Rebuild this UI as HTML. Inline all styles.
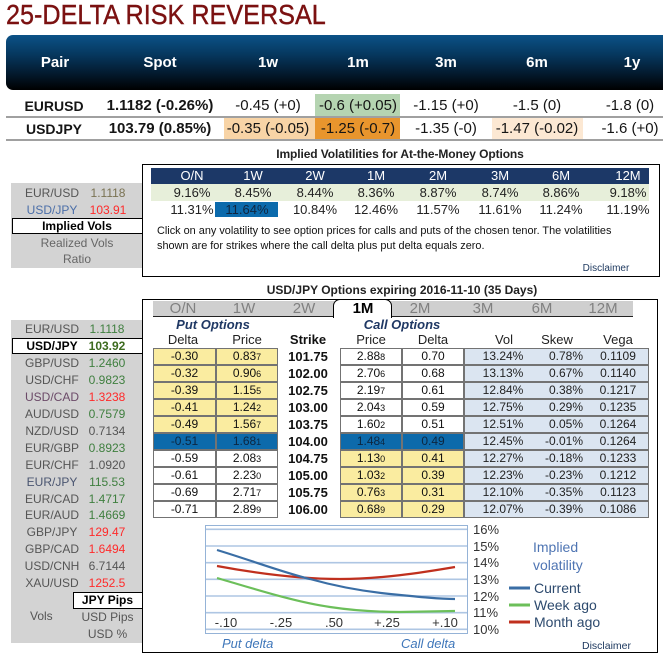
<!DOCTYPE html>
<html><head><meta charset="utf-8">
<style>
*{margin:0;padding:0;box-sizing:border-box}
body{width:663px;height:655px;overflow:hidden;background:#fff;font-family:"Liberation Sans",Arial,sans-serif;position:relative}
.a{position:absolute;white-space:nowrap}
.c{text-align:center}
.h{font-size:15px;line-height:18px;font-weight:bold;color:#fff;top:54px;width:100px;text-align:center}
.r{font-size:15px;line-height:18px;color:#151515;width:110px;text-align:center}
.vh{font-size:13px;line-height:16px;color:#fff;top:168px;width:60px;text-align:center}
.v1{font-size:13px;line-height:16px;color:#222;top:185px;width:60px;text-align:center}
.v2{font-size:13px;line-height:16px;color:#222;top:202px;width:60px;text-align:center}
.ln{font-size:12px;line-height:15px;color:#555;width:80px;text-align:center}
.lv{font-size:12px;line-height:15px;width:60px;text-align:center}
.g{color:#3f7f3f}.rd{color:#ff2a2a}.gy{color:#555}
.cell{position:absolute;height:17px;border:1px solid #737373;font-size:12px;line-height:15px;text-align:center;color:#111}
.y{background:#faeca0}.w{background:#fff}.b{background:#0d6aab;color:#0d2640}
.vb{position:absolute;left:464px;width:185px;height:17px;border:1px solid #737373;background:#dbe5f1}
.sm{font-size:9px}
.st{font-size:13px;line-height:17px;font-weight:bold;color:#111;left:280px;width:56px;text-align:center}
.vt{font-size:12px;line-height:17px;color:#222}
.tab{font-size:15px;line-height:15px;color:#808080;top:301px;width:50px;text-align:center}
.ch{font-size:13px;line-height:16px;color:#222;top:332px;width:60px;text-align:center}
</style></head><body>

<!-- Title -->
<div class="a" style="left:6px;top:-1px;font-size:28px;line-height:32px;color:#7b1111;-webkit-text-stroke:0.4px #7b1111;transform:scaleX(0.9);transform-origin:0 0">25-DELTA RISK REVERSAL</div>

<!-- Header band -->
<div class="a" style="left:6px;top:35px;width:657px;height:55px;border-radius:7px 0 0 7px;background:linear-gradient(#0b5287,#06385f 35%,#031a2e 70%,#000 100%)"></div>
<div class="a h" style="left:5px">Pair</div>
<div class="a h" style="left:110px">Spot</div>
<div class="a h" style="left:218px">1w</div>
<div class="a h" style="left:308px">1m</div>
<div class="a h" style="left:396px">3m</div>
<div class="a h" style="left:487px">6m</div>
<div class="a h" style="left:582px">1y</div>

<!-- highlights -->
<div class="a" style="left:315px;top:94px;width:85px;height:23px;background:#b5d4b1"></div>
<div class="a" style="left:224px;top:118px;width:91px;height:21px;background:#f8d4a6"></div>
<div class="a" style="left:315px;top:118px;width:85px;height:21px;background:#e8952d"></div>
<div class="a" style="left:492px;top:118px;width:91px;height:21px;background:#fce8d3"></div>
<div class="a" style="left:6px;top:116px;width:657px;height:2px;background:#a0a0a0"></div>
<div class="a" style="left:6px;top:139px;width:657px;height:2px;background:#a0a0a0"></div>

<div class="a r" style="left:-1px;top:97px;font-weight:bold;font-size:14px">EURUSD</div>
<div class="a r" style="left:105px;top:97px;font-weight:bold">1.1182 (-0.26%)</div>
<div class="a r" style="left:213px;top:97px">-0.45 (+0)</div>
<div class="a r" style="left:303px;top:97px">-0.6 (+0.05)</div>
<div class="a r" style="left:391px;top:97px">-1.15 (+0)</div>
<div class="a r" style="left:482px;top:97px">-1.5 (0)</div>
<div class="a r" style="left:575px;top:97px">-1.8 (0)</div>

<div class="a r" style="left:-1px;top:120px;font-weight:bold;font-size:14px">USDJPY</div>
<div class="a r" style="left:105px;top:120px;font-weight:bold">103.79 (0.85%)</div>
<div class="a r" style="left:213px;top:120px">-0.35 (-0.05)</div>
<div class="a r" style="left:303px;top:120px">-1.25 (-0.7)</div>
<div class="a r" style="left:391px;top:120px">-1.35 (-0)</div>
<div class="a r" style="left:482px;top:120px">-1.47 (-0.02)</div>
<div class="a r" style="left:575px;top:120px">-1.6 (+0)</div>

<!-- Section 2: Implied vols -->
<div class="a c" style="left:250px;top:147px;width:300px;font-size:12px;line-height:15px;font-weight:bold;color:#222;letter-spacing:-0.1px">Implied Volatilities for At-the-Money Options</div>
<div class="a" style="left:142px;top:164px;width:518px;height:113px;border:1px solid #000"></div>
<div class="a" style="left:151px;top:168px;width:498px;height:16px;background:#1c3867"></div>
<div class="a" style="left:151px;top:184px;width:498px;height:17px;background:#e7efda"></div>
<div class="a" style="left:215px;top:202px;width:63px;height:15px;background:#0b6aac"></div>

<div class="a vh" style="left:162px">O/N</div>
<div class="a vh" style="left:223px">1W</div>
<div class="a vh" style="left:285px">2W</div>
<div class="a vh" style="left:346px">1M</div>
<div class="a vh" style="left:408px">2M</div>
<div class="a vh" style="left:470px">3M</div>
<div class="a vh" style="left:531px">6M</div>
<div class="a vh" style="left:598px">12M</div>

<div class="a v1" style="left:162px">9.16%</div>
<div class="a v1" style="left:223px">8.45%</div>
<div class="a v1" style="left:285px">8.44%</div>
<div class="a v1" style="left:346px">8.36%</div>
<div class="a v1" style="left:408px">8.87%</div>
<div class="a v1" style="left:470px">8.74%</div>
<div class="a v1" style="left:531px">8.86%</div>
<div class="a v1" style="left:598px">9.18%</div>

<div class="a v2" style="left:162px">11.31%</div>
<div class="a v2" style="left:217px;color:#10253f">11.64%</div>
<div class="a v2" style="left:285px">10.84%</div>
<div class="a v2" style="left:346px">12.46%</div>
<div class="a v2" style="left:408px">11.57%</div>
<div class="a v2" style="left:470px">11.61%</div>
<div class="a v2" style="left:531px">11.24%</div>
<div class="a v2" style="left:598px">11.19%</div>

<div class="a" style="left:157px;top:224px;font-size:10.9px;line-height:15px;color:#111">Click on any volatility to see option prices for calls and puts of the chosen tenor. The volatilities<br>shown are for strikes where the call delta plus put delta equals zero.</div>
<div class="a c" style="left:576px;top:263px;width:60px;font-size:10px;line-height:12px;color:#1f3a60">Disclaimer</div>

<!-- left panel section 2 -->
<div class="a" style="left:11px;top:183px;width:131px;height:85px;background:#d3d3d3"></div>
<div class="a ln" style="left:12px;top:186px">EUR/USD</div>
<div class="a lv" style="left:78px;top:186px;color:#7a7252">1.1118</div>
<div class="a ln" style="left:12px;top:203px;color:#4a6ea8">USD/JPY</div>
<div class="a lv" style="left:78px;top:203px;color:#ff2a2a">103.91</div>
<div class="a" style="left:12px;top:218px;width:131px;height:16px;background:#fff;border:1px solid #000"></div>
<div class="a c" style="left:12px;top:218px;width:130px;font-size:12px;line-height:16px;font-weight:bold;color:#000">Implied Vols</div>
<div class="a c" style="left:12px;top:236px;width:130px;font-size:12px;line-height:15px;color:#666">Realized Vols</div>
<div class="a c" style="left:12px;top:252px;width:130px;font-size:12px;line-height:15px;color:#666">Ratio</div>

<!-- Section 3 -->
<div class="a c" style="left:252px;top:283px;width:300px;font-size:12px;line-height:15px;font-weight:bold;color:#222">USD/JPY Options expiring 2016-11-10 (35 Days)</div>
<div class="a" style="left:142px;top:299px;width:516px;height:354px;border:1px solid #000"></div>
<div class="a" style="left:153px;top:301px;width:480px;height:15px;background:#cfcfcf"></div>
<div class="a" style="left:153px;top:316px;width:480px;height:1px;background:#222"></div>
<div class="a" style="left:333px;top:299px;width:59px;height:19px;background:#fff;border:1px solid #000;border-bottom:none;border-radius:7px 7px 0 0"></div>
<div class="a tab" style="left:158px">O/N</div>
<div class="a tab" style="left:219px">1W</div>
<div class="a tab" style="left:279px">2W</div>
<div class="a tab" style="left:338px;color:#000;font-weight:bold">1M</div>
<div class="a tab" style="left:395px">2M</div>
<div class="a tab" style="left:458px">3M</div>
<div class="a tab" style="left:517px">6M</div>
<div class="a tab" style="left:578px">12M</div>

<div class="a c" style="left:163px;top:317px;width:100px;font-size:13px;line-height:15px;font-weight:bold;font-style:italic;color:#1f3864">Put Options</div>
<div class="a c" style="left:352px;top:317px;width:100px;font-size:13px;line-height:15px;font-weight:bold;font-style:italic;color:#1f3864">Call Options</div>
<div class="a ch" style="left:153px">Delta</div>
<div class="a ch" style="left:217px">Price</div>
<div class="a ch" style="left:278px;font-weight:bold;color:#111">Strike</div>
<div class="a ch" style="left:341px">Price</div>
<div class="a ch" style="left:403px">Delta</div>
<div class="a ch" style="left:474px">Vol</div>
<div class="a ch" style="left:527px">Skew</div>
<div class="a ch" style="left:588px">Vega</div>

<!-- rows -->
<div class="cell y" style="left:153px;top:348px;width:63px">-0.30</div><div class="cell y" style="left:216px;top:348px;width:62px">0.83<span class="sm">7</span></div><div class="a st" style="top:348px">101.75</div><div class="cell w" style="left:340px;top:348px;width:62px">2.88<span class="sm">8</span></div><div class="cell w" style="left:402px;top:348px;width:62px">0.70</div><div class="vb" style="top:348px"></div>
<div class="a vt c" style="left:470px;top:348px;width:66px">13.24%</div><div class="a vt" style="left:533px;top:348px;width:50px;text-align:right">0.78%</div><div class="a vt c" style="left:588px;top:348px;width:60px">0.1109</div>

<div class="cell y" style="left:153px;top:365px;width:63px">-0.32</div><div class="cell y" style="left:216px;top:365px;width:62px">0.90<span class="sm">6</span></div><div class="a st" style="top:365px">102.00</div><div class="cell w" style="left:340px;top:365px;width:62px">2.70<span class="sm">6</span></div><div class="cell w" style="left:402px;top:365px;width:62px">0.68</div><div class="vb" style="top:365px"></div>
<div class="a vt c" style="left:470px;top:365px;width:66px">13.13%</div><div class="a vt" style="left:533px;top:365px;width:50px;text-align:right">0.67%</div><div class="a vt c" style="left:588px;top:365px;width:60px">0.1140</div>

<div class="cell y" style="left:153px;top:382px;width:63px">-0.39</div><div class="cell y" style="left:216px;top:382px;width:62px">1.15<span class="sm">5</span></div><div class="a st" style="top:382px">102.75</div><div class="cell w" style="left:340px;top:382px;width:62px">2.19<span class="sm">7</span></div><div class="cell w" style="left:402px;top:382px;width:62px">0.61</div><div class="vb" style="top:382px"></div>
<div class="a vt c" style="left:470px;top:382px;width:66px">12.84%</div><div class="a vt" style="left:533px;top:382px;width:50px;text-align:right">0.38%</div><div class="a vt c" style="left:588px;top:382px;width:60px">0.1217</div>

<div class="cell y" style="left:153px;top:399px;width:63px">-0.41</div><div class="cell y" style="left:216px;top:399px;width:62px">1.24<span class="sm">2</span></div><div class="a st" style="top:399px">103.00</div><div class="cell w" style="left:340px;top:399px;width:62px">2.04<span class="sm">3</span></div><div class="cell w" style="left:402px;top:399px;width:62px">0.59</div><div class="vb" style="top:399px"></div>
<div class="a vt c" style="left:470px;top:399px;width:66px">12.75%</div><div class="a vt" style="left:533px;top:399px;width:50px;text-align:right">0.29%</div><div class="a vt c" style="left:588px;top:399px;width:60px">0.1235</div>

<div class="cell y" style="left:153px;top:416px;width:63px">-0.49</div><div class="cell y" style="left:216px;top:416px;width:62px">1.56<span class="sm">7</span></div><div class="a st" style="top:416px">103.75</div><div class="cell w" style="left:340px;top:416px;width:62px">1.60<span class="sm">2</span></div><div class="cell w" style="left:402px;top:416px;width:62px">0.51</div><div class="vb" style="top:416px"></div>
<div class="a vt c" style="left:470px;top:416px;width:66px">12.51%</div><div class="a vt" style="left:533px;top:416px;width:50px;text-align:right">0.05%</div><div class="a vt c" style="left:588px;top:416px;width:60px">0.1264</div>

<div class="cell b" style="left:153px;top:433px;width:63px">-0.51</div><div class="cell b" style="left:216px;top:433px;width:62px">1.68<span class="sm">1</span></div><div class="a st" style="top:433px">104.00</div><div class="cell b" style="left:340px;top:433px;width:62px">1.48<span class="sm">4</span></div><div class="cell b" style="left:402px;top:433px;width:62px">0.49</div><div class="vb" style="top:433px"></div>
<div class="a vt c" style="left:470px;top:433px;width:66px">12.45%</div><div class="a vt" style="left:533px;top:433px;width:50px;text-align:right">-0.01%</div><div class="a vt c" style="left:588px;top:433px;width:60px">0.1264</div>

<div class="cell w" style="left:153px;top:450px;width:63px">-0.59</div><div class="cell w" style="left:216px;top:450px;width:62px">2.08<span class="sm">3</span></div><div class="a st" style="top:450px">104.75</div><div class="cell y" style="left:340px;top:450px;width:62px">1.13<span class="sm">0</span></div><div class="cell y" style="left:402px;top:450px;width:62px">0.41</div><div class="vb" style="top:450px"></div>
<div class="a vt c" style="left:470px;top:450px;width:66px">12.27%</div><div class="a vt" style="left:533px;top:450px;width:50px;text-align:right">-0.18%</div><div class="a vt c" style="left:588px;top:450px;width:60px">0.1233</div>

<div class="cell w" style="left:153px;top:467px;width:63px">-0.61</div><div class="cell w" style="left:216px;top:467px;width:62px">2.23<span class="sm">0</span></div><div class="a st" style="top:467px">105.00</div><div class="cell y" style="left:340px;top:467px;width:62px">1.03<span class="sm">2</span></div><div class="cell y" style="left:402px;top:467px;width:62px">0.39</div><div class="vb" style="top:467px"></div>
<div class="a vt c" style="left:470px;top:467px;width:66px">12.23%</div><div class="a vt" style="left:533px;top:467px;width:50px;text-align:right">-0.23%</div><div class="a vt c" style="left:588px;top:467px;width:60px">0.1212</div>

<div class="cell w" style="left:153px;top:484px;width:63px">-0.69</div><div class="cell w" style="left:216px;top:484px;width:62px">2.71<span class="sm">7</span></div><div class="a st" style="top:484px">105.75</div><div class="cell y" style="left:340px;top:484px;width:62px">0.76<span class="sm">3</span></div><div class="cell y" style="left:402px;top:484px;width:62px">0.31</div><div class="vb" style="top:484px"></div>
<div class="a vt c" style="left:470px;top:484px;width:66px">12.10%</div><div class="a vt" style="left:533px;top:484px;width:50px;text-align:right">-0.35%</div><div class="a vt c" style="left:588px;top:484px;width:60px">0.1123</div>

<div class="cell w" style="left:153px;top:501px;width:63px">-0.71</div><div class="cell w" style="left:216px;top:501px;width:62px">2.89<span class="sm">9</span></div><div class="a st" style="top:501px">106.00</div><div class="cell y" style="left:340px;top:501px;width:62px">0.68<span class="sm">9</span></div><div class="cell y" style="left:402px;top:501px;width:62px">0.29</div><div class="vb" style="top:501px"></div>
<div class="a vt c" style="left:470px;top:501px;width:66px">12.07%</div><div class="a vt" style="left:533px;top:501px;width:50px;text-align:right">-0.39%</div><div class="a vt c" style="left:588px;top:501px;width:60px">0.1086</div>

<!-- left list section 3 -->
<div class="a" style="left:11px;top:320px;width:131px;height:323px;background:#d3d3d3"></div>
<div class="a" style="left:12px;top:338px;width:131px;height:16px;background:#fff;border:1px solid #000"></div>
<div class="a ln" style="left:12px;top:322px">EUR/USD</div><div class="a lv g" style="left:77px;top:322px">1.1118</div>
<div class="a ln" style="left:12px;top:339px;color:#000;font-weight:bold">USD/JPY</div><div class="a lv" style="left:77px;top:339px;color:#3d6b1f;font-weight:bold">103.92</div>
<div class="a ln" style="left:12px;top:356px">GBP/USD</div><div class="a lv g" style="left:77px;top:356px">1.2460</div>
<div class="a ln" style="left:12px;top:373px">USD/CHF</div><div class="a lv g" style="left:77px;top:373px">0.9823</div>
<div class="a ln" style="left:12px;top:390px;color:#6b4a68">USD/CAD</div><div class="a lv rd" style="left:77px;top:390px">1.3238</div>
<div class="a ln" style="left:12px;top:407px">AUD/USD</div><div class="a lv g" style="left:77px;top:407px">0.7579</div>
<div class="a ln" style="left:12px;top:424px">NZD/USD</div><div class="a lv gy" style="left:77px;top:424px">0.7134</div>
<div class="a ln" style="left:12px;top:441px">EUR/GBP</div><div class="a lv g" style="left:77px;top:441px">0.8923</div>
<div class="a ln" style="left:12px;top:458px">EUR/CHF</div><div class="a lv gy" style="left:77px;top:458px">1.0920</div>
<div class="a ln" style="left:12px;top:475px;color:#4a5570">EUR/JPY</div><div class="a lv g" style="left:77px;top:475px">115.53</div>
<div class="a ln" style="left:12px;top:492px">EUR/CAD</div><div class="a lv g" style="left:77px;top:492px">1.4717</div>
<div class="a ln" style="left:12px;top:508px">EUR/AUD</div><div class="a lv g" style="left:77px;top:508px">1.4669</div>
<div class="a ln" style="left:12px;top:525px">GBP/JPY</div><div class="a lv rd" style="left:77px;top:525px">129.47</div>
<div class="a ln" style="left:12px;top:542px">GBP/CAD</div><div class="a lv rd" style="left:77px;top:542px">1.6494</div>
<div class="a ln" style="left:12px;top:559px">USD/CNH</div><div class="a lv gy" style="left:77px;top:559px">6.7144</div>
<div class="a ln" style="left:12px;top:576px">XAU/USD</div><div class="a lv rd" style="left:77px;top:576px">1252.5</div>
<div class="a" style="left:73px;top:592px;width:70px;height:17px;background:#fff;border:1px solid #000"></div>
<div class="a c" style="left:73px;top:593px;width:69px;font-size:12px;line-height:15px;font-weight:bold;color:#000">JPY Pips</div>
<div class="a" style="left:30px;top:609px;font-size:12px;line-height:15px;color:#555">Vols</div>
<div class="a c" style="left:73px;top:610px;width:69px;font-size:12px;line-height:15px;color:#555">USD Pips</div>
<div class="a c" style="left:73px;top:627px;width:69px;font-size:12px;line-height:15px;color:#555">USD %</div>

<!-- Chart -->
<svg class="a" style="left:0;top:0" width="663" height="655" viewBox="0 0 663 655">
  <rect x="205.5" y="525.5" width="262" height="108" fill="#fff" stroke="#95b3d7" stroke-width="1"/>
  <g stroke="#aec6e3" stroke-width="1.6">
    <line x1="206" y1="529.3" x2="467" y2="529.3"/>
    <line x1="206" y1="546" x2="467" y2="546"/>
    <line x1="206" y1="562.7" x2="467" y2="562.7"/>
    <line x1="206" y1="579.3" x2="467" y2="579.3"/>
    <line x1="206" y1="596" x2="467" y2="596"/>
    <line x1="206" y1="612.7" x2="467" y2="612.7"/>
    <line x1="206" y1="629.3" x2="467" y2="629.3"/>
  </g>
  <path d="M217,566 C260,574 300,579 340,579 C380,579 420,573 455,567" fill="none" stroke="#c0301e" stroke-width="2.2"/>
  <path d="M217,578 C255,589 295,602 330,607 C350,610 370,612 400,612 L455,611" fill="none" stroke="#6cbf5a" stroke-width="2.2"/>
  <path d="M217,550 C250,560 285,573 310,579 C335,586 360,591 390,594 C420,597 440,599 455,599" fill="none" stroke="#3a6ea5" stroke-width="2.2"/>
  <g font-family="Liberation Sans, Arial, sans-serif" font-size="13" fill="#333" text-anchor="middle">
    <text x="226" y="627">-.10</text>
    <text x="281" y="627">-.25</text>
    <text x="334" y="627">.50</text>
    <text x="387" y="627">+.25</text>
    <text x="445" y="627">+.10</text>
  </g>
  <g font-family="Liberation Sans, Arial, sans-serif" font-size="13" fill="#333">
    <text x="473" y="534">16%</text>
    <text x="473" y="551">15%</text>
    <text x="473" y="567">14%</text>
    <text x="473" y="584">13%</text>
    <text x="473" y="601">12%</text>
    <text x="473" y="617">11%</text>
    <text x="473" y="634">10%</text>
  </g>
  <g font-family="Liberation Sans, Arial, sans-serif" font-size="13" fill="#3f77ba" font-style="italic">
    <text x="222" y="648">Put delta</text>
    <text x="401" y="648">Call delta</text>
  </g>
  <g font-family="Liberation Sans, Arial, sans-serif" font-size="14" fill="#4f75b3">
    <text x="533" y="552">Implied</text>
    <text x="533" y="570">volatility</text>
  </g>
  <line x1="509" y1="588" x2="530" y2="588" stroke="#3a6ea5" stroke-width="3"/>
  <line x1="509" y1="605" x2="530" y2="605" stroke="#6cbf5a" stroke-width="3"/>
  <line x1="509" y1="622" x2="530" y2="622" stroke="#c0301e" stroke-width="3"/>
  <g font-family="Liberation Sans, Arial, sans-serif" font-size="14" fill="#2d4a6e">
    <text x="534" y="593">Current</text>
    <text x="534" y="610">Week ago</text>
    <text x="534" y="627">Month ago</text>
  </g>
  <text x="582" y="649" font-family="Liberation Sans, Arial, sans-serif" font-size="10.5" fill="#1f3a60">Disclaimer</text>
</svg>

</body></html>
